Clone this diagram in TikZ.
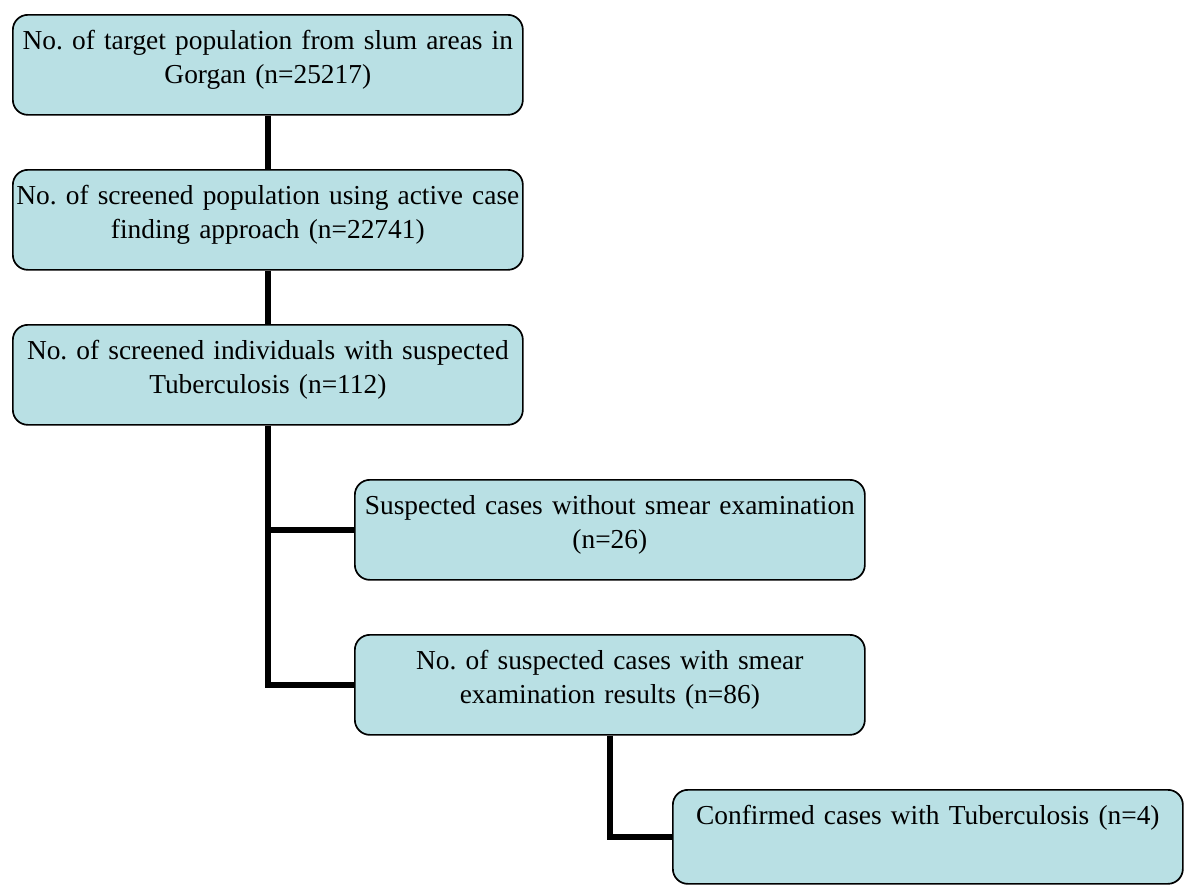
\documentclass[tikz,border=0pt]{standalone}
\usepackage{fontspec}
\setmainfont{Liberation Serif}
\usepackage{tikz}
\usetikzlibrary{%
	calc,%
	positioning%
}
\definecolor{boxcyan}{RGB}{185,224,228}
\frenchspacing

\begin{document}
\begin{tikzpicture}[x=0.5pt,y=-0.5pt,
		flowbox/.style={draw=black,line width=0.85pt,fill=boxcyan,rounded corners=7.5pt,
			anchor=north west,text width=255pt,align=center,inner xsep=0pt,inner ysep=5pt,
			text height=12.5pt,text depth=27.5pt,font=\fontsize{13.7}{16.7}\selectfont},
		link/.style={line width=2.8pt,black}]
			\useasboundingbox (0,0) rectangle (1200,884);
			
			% Boxes of the flow
			\node[flowbox] (target) at (12,14) {No. of target population from slum areas in\\ Gorgan (n=25217)};
			\node[flowbox] (screened) at (12,169) {No. of screened population using active case\\ finding approach (n=22741)};
			\node[flowbox] (suspected) at (12,324) {No. of screened individuals with suspected\\ Tuberculosis (n=112)};
			\node[flowbox] (nosmear) at (354,479) {Suspected cases without smear examination\\ (n=26)};
			\node[flowbox] (smear) at (354,634) {No. of suspected cases with smear\\ examination results (n=86)};
			\node[flowbox,text depth=24.5pt] (confirmed) at (672,789) {Confirmed cases with Tuberculosis (n=4)};
			
			% Connectors
			\draw[link] (target.south) -- (screened.north);
			\draw[link] (screened.south) -- (suspected.north);
			\draw[link] (suspected.south) |- (nosmear.west);
			\draw[link] (suspected.south) |- (smear.west);
			\draw[link] (smear.south) |- (confirmed.west);
		\end{tikzpicture}
\end{document}
